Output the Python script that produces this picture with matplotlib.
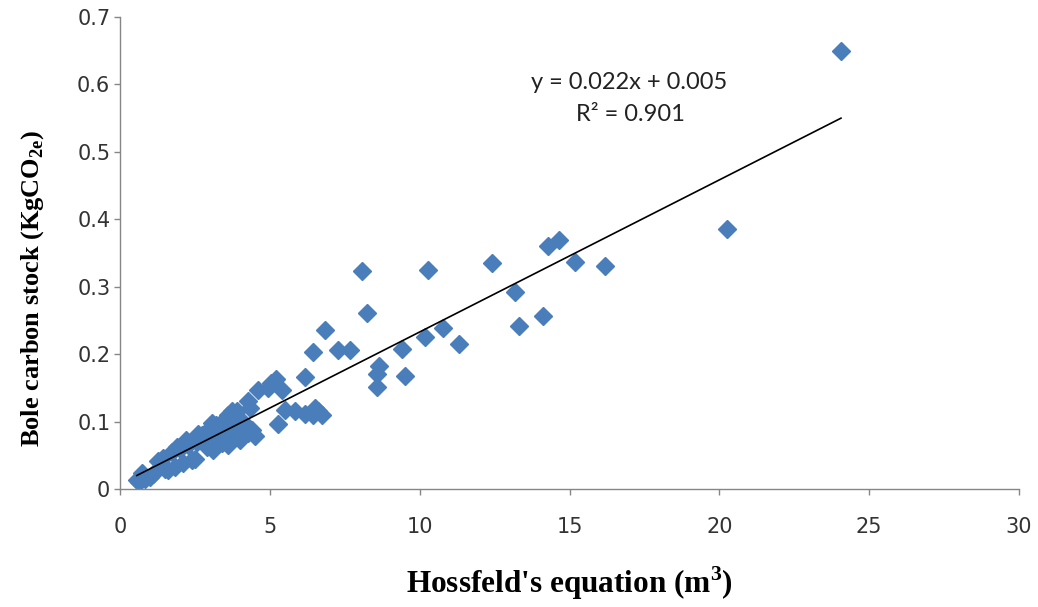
import numpy as np
import matplotlib
matplotlib.use("Agg")
import matplotlib.pyplot as plt

x_vals = [0.56, 0.62, 0.72, 0.85, 1.0, 1.1, 1.28, 1.45, 1.61, 1.83, 1.72, 2.0, 2.28, 2.11,
          2.39, 2.56, 2.72, 2.95, 3.11, 3.22, 3.39, 3.61, 3.5, 3.06,
          2.5, 2.6, 2.8, 3.0, 3.3, 3.6, 3.8, 3.9, 4.0, 4.1, 4.2, 3.4, 2.2, 1.9, 1.5, 2.9, 3.7, 3.2,
          4.62, 4.95, 5.05, 5.2, 5.42, 4.28, 4.34, 5.5, 5.84, 6.17, 6.5, 6.45, 6.73, 6.6, 5.28,
          3.73, 3.61, 3.95, 4.28, 4.5, 4.4,
          8.08, 10.28, 12.43, 8.25, 6.83, 6.43, 7.28, 7.67, 6.18, 8.63, 8.59, 8.57, 9.40, 9.52,
          10.18, 10.79, 11.30,
          14.29, 14.65, 15.2, 16.2, 13.18, 14.13, 13.32, 20.24, 24.06]
y_vals = [0.013, 0.010, 0.023, 0.015, 0.018, 0.022, 0.041, 0.046, 0.028, 0.033, 0.055, 0.060, 0.065, 0.038,
          0.043, 0.070, 0.080, 0.088, 0.058, 0.080, 0.100, 0.110, 0.075, 0.098,
          0.045, 0.082, 0.068, 0.070, 0.090, 0.065, 0.095, 0.115, 0.072, 0.100, 0.092, 0.068, 0.072, 0.062, 0.030, 0.062, 0.105, 0.095,
          0.147, 0.150, 0.157, 0.163, 0.147, 0.130, 0.120, 0.117, 0.115, 0.111, 0.120, 0.110, 0.110, 0.115, 0.097,
          0.115, 0.088, 0.080, 0.083, 0.078, 0.088,
          0.323, 0.325, 0.335, 0.261, 0.236, 0.203, 0.206, 0.206, 0.166, 0.183, 0.171, 0.152, 0.208, 0.168,
          0.225, 0.239, 0.215,
          0.360, 0.369, 0.336, 0.330, 0.292, 0.257, 0.242, 0.386, 0.649]

x_ticks = [0, 5, 10, 15, 20, 25, 30]
y_ticks = [0, 0.1, 0.2, 0.3, 0.4, 0.5, 0.6, 0.7]
y_tick_labels = ["0", "0.1", "0.2", "0.3", "0.4", "0.5", "0.6", "0.7"]
eq_text = "y = 0.022x + 0.005"
r2_text = "R\u00b2 = 0.901"

plt.rcParams['mathtext.fontset'] = 'custom'
plt.rcParams['mathtext.rm'] = 'Liberation Serif:bold'

fig = plt.figure(figsize=(10.38, 6.07), dpi=100)
ax = fig.add_axes([120/1038, 1-489/607, (1019-120)/1038, (489-17)/607])

x = np.array(x_vals)
y = np.array(y_vals)
ax.plot(x, y, linestyle='none', marker='D', markersize=9.0, color='#4A7EBB',
        markeredgecolor='#4A7EBB', zorder=2)

slope, intercept = np.polyfit(x, y, 1)
xl = np.array([x.min(), x.max()])
ax.plot(xl, slope*xl + intercept, color='black', lw=1.2, zorder=3)

ax.set_xlim(0, 30)
ax.set_ylim(0, 0.7)
ax.set_xticks(x_ticks)
ax.set_xticklabels([str(t) for t in x_ticks])
ax.set_yticks(y_ticks)
ax.set_yticklabels(y_tick_labels)

for s in ['top', 'right']:
    ax.spines[s].set_visible(False)
for s in ['left', 'bottom']:
    ax.spines[s].set_color('#868686')
    ax.spines[s].set_linewidth(1.0)
ax.tick_params(axis='both', direction='out', length=4.5, color='#868686', width=1.0,
               labelsize=15, labelcolor='#333333')
ax.tick_params(axis='x', pad=16)
ax.tick_params(axis='y', pad=2.5)

ax.text(17.0, 0.603, eq_text, ha='center', va='center', fontsize=17, family='Lato', color='#222222')
ax.text(17.05, 0.556, r2_text, ha='center', va='center', fontsize=17, family='Lato', color='#222222')

ax.set_xlabel("Hossfeld's equation (m$^{\\mathregular{3}}$)", family='Liberation Serif',
              fontweight='bold', fontsize=22.5)
ax.set_ylabel("Bole carbon stock (KgCO$_{\\mathregular{2e}}$)", family='Liberation Serif',
              fontweight='bold', fontsize=19)
ax.xaxis.set_label_coords(0.5, -(583-489)/472, transform=ax.transAxes)
ax.yaxis.set_label_coords(-(120-33)/899, (489-288)/472, transform=ax.transAxes)
ax.xaxis.label.set_va('center')
ax.yaxis.label.set_va('center')

fig.savefig('out.png', dpi=100)
